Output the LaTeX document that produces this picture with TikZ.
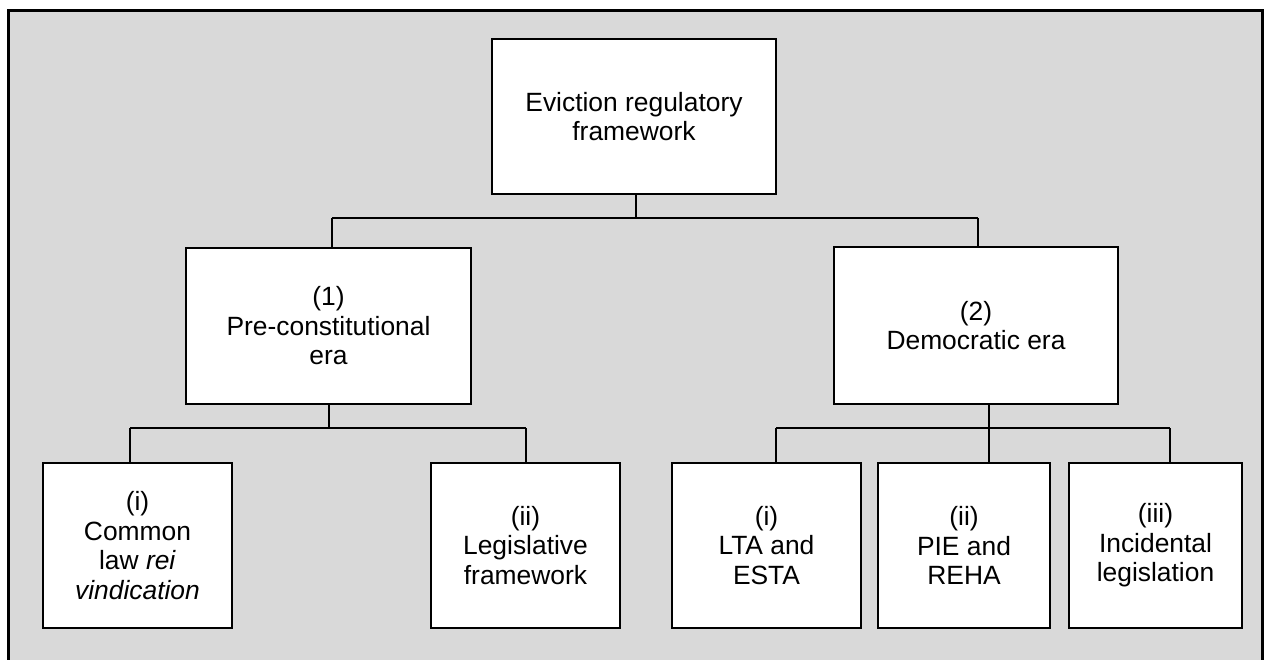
\documentclass[tikz,border=0pt]{standalone}
\usepackage{fontspec}
\setmainfont{Liberation Sans}
\definecolor{bggrey}{HTML}{D9D9D9}
\tikzset{
  box/.style={draw=black, fill=white, line width=2.6pt, inner sep=0pt,
    align=center, font=\fontsize{26.4}{29.5}\selectfont},
  conn/.style={draw=black, line width=1.6pt},
}
\begin{document}
\begin{tikzpicture}[x=1pt, y=-1pt]
\useasboundingbox (0,0) rectangle (1264,659);
\fill[bggrey] (8,10) rectangle (1262,662);
\draw[line width=3pt] (8,662) -- (8,10) -- (1262,10) -- (1262,662);

% junction coordinates
\coordinate (jT) at (636,218);
\coordinate (jTL) at (332,218);
\coordinate (jTR) at (978,218);
\coordinate (jL) at (329,428);
\coordinate (jLL) at (130,428);
\coordinate (jLR) at (526,428);
\coordinate (jR) at (989,428);
\coordinate (jRL) at (776,428);
\coordinate (jRR) at (1170,428);

% connectors
\draw[conn] (jTL) -- (jTR);
\draw[conn] (jLL) -- (jLR);
\draw[conn] (jRL) -- (jRR);

\node[box, minimum width=284, minimum height=155] (top) at (634,116.5) {Eviction regulatory\\framework};
\node[box, minimum width=285, minimum height=156] (pre) at (328.5,326) {(1)\\Pre-constitutional\\era};
\node[box, minimum width=284, minimum height=157] (dem) at (976,325.5) {(2)\\Democratic era};
\node[box, minimum width=189, minimum height=165] (com) at (137.5,545.5) {(i)\\Common\\law \textit{rei}\\\textit{vindication}};
\node[box, minimum width=189, minimum height=165] (leg) at (525.5,545.5) {(ii)\\Legislative\\framework};
\node[box, minimum width=189, minimum height=165] (lta) at (766.5,545.5) {(i)\\LTA and\\ESTA};
\node[box, minimum width=172, minimum height=165] (pie) at (964,545.5) {(ii)\\PIE and\\REHA};
\node[box, minimum width=173, minimum height=165] (inc) at (1155.5,545.5) {(iii)\\Incidental\\legislation};

\draw[conn] (top.south -| jT) -- (jT);
\draw[conn] (jTL) -- (jTL |- pre.north);
\draw[conn] (jTR) -- (jTR |- dem.north);
\draw[conn] (pre.south -| jL) -- (jL);
\draw[conn] (jLL) -- (jLL |- com.north);
\draw[conn] (jLR) -- (jLR |- leg.north);
\draw[conn] (dem.south -| jR) -- (jR) -- (jR |- pie.north);
\draw[conn] (jRL) -- (jRL |- lta.north);
\draw[conn] (jRR) -- (jRR |- inc.north);
\end{tikzpicture}
\end{document}
